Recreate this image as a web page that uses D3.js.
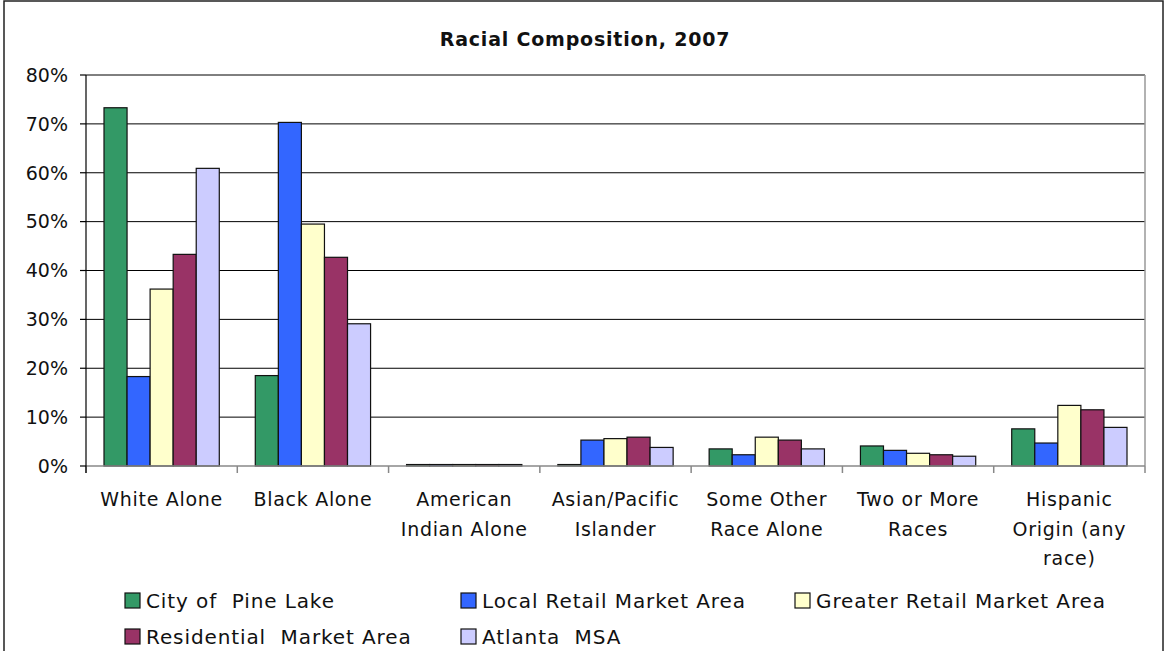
<!DOCTYPE html>
<html>
<head>
<meta charset="utf-8">
<script src="https://cdn.jsdelivr.net/npm/d3@7"></script>
<style>
  body { margin: 0; background: #fff; }
  text { font-family: "DejaVu Sans", sans-serif; fill: #111; }
</style>
</head>
<body>
<div class="container"></div>
<script>
// data (percent)
const categories = ["White Alone", "Black Alone", "American\nIndian Alone", "Asian/Pacific\nIslander",
                    "Some Other\nRace Alone", "Two or More\nRaces", "Hispanic\nOrigin (any\nrace)"];
const seriesNames = ["City of  Pine Lake", "Local Retail Market Area", "Greater Retail Market Area",
                     "Residential  Market Area", "Atlanta  MSA"];
const pineLake    = [73.3, 18.5, 0.3, 0.3, 3.5, 4.1, 7.6];
const localRetail = [18.3, 70.3, 0.3, 5.3, 2.3, 3.2, 4.7];
const greaterRetail = [36.2, 49.5, 0.3, 5.6, 5.9, 2.6, 12.4];
const residential = [43.3, 42.7, 0.3, 5.9, 5.3, 2.3, 11.5];
const atlanta     = [60.9, 29.1, 0.3, 3.8, 3.5, 2.0, 7.9];
const yTicks = [0, 10, 20, 30, 40, 50, 60, 70, 80];
const colors = ["#339966", "#3366ff", "#ffffcc", "#993366", "#ccccff"];

const seriesValues = [pineLake, localRetail, greaterRetail, residential, atlanta];

// build the SVG
const svgwidth = 1165, svgheight = 651;
const margin = {top: 75, right: 20, bottom: 185, left: 86};
const width = svgwidth - margin.left - margin.right;
const height = svgheight - margin.top - margin.bottom;

const svg = d3.select(".container").append("svg")
    .attr("width", svgwidth)
    .attr("height", svgheight);

// outer chart border
svg.append("rect")
    .attr("x", 4).attr("y", 1)
    .attr("width", 1159).attr("height", 660)
    .attr("fill", "none").attr("stroke", "#222").attr("stroke-width", 1.5);

const g = svg.append("g")
    .attr("transform", "translate(" + margin.left + "," + margin.top + ")");

// scales
const x0 = d3.scaleBand().domain(categories).range([0, width]).padding(0);
const x1 = d3.scaleBand().domain(seriesNames)
    .range([18, x0.bandwidth() - 18]).padding(0);
const y = d3.scaleLinear().domain([0, 80]).range([height, 0]);

// gridlines
g.selectAll(".grid")
  .data(yTicks.filter(d => d > 0))
  .enter().append("line")
    .attr("x1", 0).attr("x2", width)
    .attr("y1", d => y(d)).attr("y2", d => y(d))
    .attr("stroke", "#000").attr("stroke-width", 1);

// right edge of plot area
g.append("line")
    .attr("x1", width).attr("x2", width)
    .attr("y1", 0).attr("y2", height)
    .attr("stroke", "#999").attr("stroke-width", 1.5);

// bars
const groups = g.selectAll(".grp")
  .data(categories)
  .enter().append("g")
    .attr("transform", d => "translate(" + x0(d) + ",0)");

groups.selectAll("rect")
  .data((c, i) => seriesNames.map((s, j) => ({s: s, v: seriesValues[j][i], j: j})))
  .enter().append("rect")
    .attr("x", d => x1(d.s))
    .attr("y", d => y(d.v))
    .attr("width", x1.bandwidth())
    .attr("height", d => height - y(d.v))
    .attr("fill", d => colors[d.j])
    .attr("stroke", "#111")
    .attr("stroke-width", 1.2);

// x axis
const xAxis = g.append("g")
    .attr("transform", "translate(0," + height + ")");
xAxis.append("line")
    .attr("x1", 0).attr("x2", width)
    .attr("stroke", "#888").attr("stroke-width", 1.5);
xAxis.selectAll(".xtick")
  .data(d3.range(categories.length + 1))
  .enter().append("line")
    .attr("x1", i => i * x0.bandwidth()).attr("x2", i => i * x0.bandwidth())
    .attr("y1", 0).attr("y2", 7)
    .attr("stroke", "#888").attr("stroke-width", 1.5);

const xl = xAxis.selectAll(".xlab")
  .data(categories)
  .enter().append("text")
    .attr("text-anchor", "middle")
    .attr("font-size", "19px")
    .attr("letter-spacing", "0.7px")
    .attr("transform", d => "translate(" + (x0(d) + x0.bandwidth() / 2) + ",40)");
xl.selectAll("tspan")
  .data(d => d.split("\n"))
  .enter().append("tspan")
    .attr("x", 0)
    .attr("y", (d, i) => i * 29.5)
    .text(d => d);

// y axis
g.append("line")
    .attr("x1", 0).attr("x2", 0)
    .attr("y1", 0).attr("y2", height + 7)
    .attr("stroke", "#000").attr("stroke-width", 1.2);
g.selectAll(".ytick")
  .data(yTicks)
  .enter().append("line")
    .attr("x1", -6).attr("x2", 0)
    .attr("y1", d => y(d)).attr("y2", d => y(d))
    .attr("stroke", "#000").attr("stroke-width", 1.2);
g.selectAll(".ylab")
  .data(yTicks)
  .enter().append("text")
    .attr("x", -18)
    .attr("y", d => y(d))
    .attr("dy", "0.36em")
    .attr("text-anchor", "end")
    .attr("font-size", "19px")
    .text(d => d + "%");

// title
svg.append("text")
    .attr("x", 585).attr("y", 46)
    .attr("text-anchor", "middle")
    .attr("font-size", "19px")
    .attr("font-weight", "bold")
    .attr("letter-spacing", "0.8px")
    .text("Racial Composition, 2007");

// legend
const legendPos = [[125, 593], [461, 593], [795, 593], [125, 629], [461, 629]];
const leg = svg.selectAll(".leg")
  .data(seriesNames)
  .enter().append("g")
    .attr("transform", (d, i) => "translate(" + legendPos[i][0] + "," + legendPos[i][1] + ")");
leg.append("rect")
    .attr("width", 15).attr("height", 15)
    .attr("fill", (d, i) => colors[i])
    .attr("stroke", "#111").attr("stroke-width", 1.2);
leg.append("text")
    .attr("x", 21).attr("y", 14.5)
    .attr("font-size", "20px")
    .attr("letter-spacing", "0.9px")
    .style("white-space", "pre")
    .text(d => d);
</script>
</body>
</html>
